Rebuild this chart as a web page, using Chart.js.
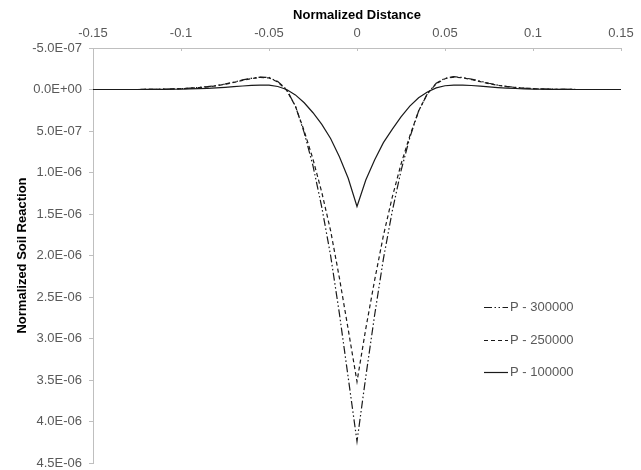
<!DOCTYPE html>
<html>
<head>
<meta charset="utf-8">
<script src="https://cdn.jsdelivr.net/npm/chart.js@4/dist/chart.umd.min.js"></script>
<style>
  html, body { margin: 0; padding: 0; background: #ffffff; }
  #wrap { width: 641px; height: 470px; }
</style>
</head>
<body>
<div id="wrap"><canvas id="c" width="641" height="470"></canvas></div>
<script>
// Normalized distance (x)
const distances = [
  -0.150, -0.145, -0.140, -0.135, -0.130, -0.125, -0.120, -0.115, -0.110, -0.105,
  -0.100, -0.095, -0.090, -0.085, -0.080, -0.075, -0.070, -0.065, -0.060, -0.055,
  -0.050, -0.045, -0.040, -0.035, -0.030, -0.025, -0.020, -0.015, -0.010, -0.005,
   0.000,
   0.005,  0.010,  0.015,  0.020,  0.025,  0.030,  0.035,  0.040,  0.045,  0.050,
   0.055,  0.060,  0.065,  0.070,  0.075,  0.080,  0.085,  0.090,  0.095,  0.100,
   0.105,  0.110,  0.115,  0.120,  0.125,  0.130,  0.135,  0.140,  0.145,  0.150
];

// Normalized soil reaction, in units of 1E-06
const UNIT = 1e-6;
const p300000 = [
  0, 0, 0, 0, 0, 0, -0.001, -0.002, -0.004, -0.007,
  -0.011, -0.017, -0.025, -0.035, -0.048, -0.066, -0.088, -0.115, -0.135, -0.150,
  -0.145, -0.095, 0.00, 0.20, 0.52, 0.92, 1.42, 2.00, 2.70, 3.47,
  4.24,
  3.46, 2.72, 2.04, 1.47, 0.98, 0.58, 0.26, 0.05, -0.075, -0.135,
  -0.155, -0.145, -0.125, -0.100, -0.075, -0.053, -0.037, -0.026, -0.017, -0.011,
  -0.007, -0.004, -0.002, -0.001, 0, 0, 0, 0, 0, 0
];
const p250000 = [
  0, 0, 0, 0, 0, 0, -0.001, -0.002, -0.004, -0.006,
  -0.010, -0.015, -0.022, -0.032, -0.045, -0.062, -0.085, -0.110, -0.130, -0.145,
  -0.140, -0.090, 0.01, 0.20, 0.50, 0.84, 1.24, 1.70, 2.27, 2.89,
  3.52,
  2.88, 2.30, 1.76, 1.30, 0.90, 0.56, 0.26, 0.05, -0.07, -0.13,
  -0.150, -0.140, -0.120, -0.095, -0.070, -0.050, -0.035, -0.024, -0.016, -0.010,
  -0.006, -0.004, -0.002, -0.001, 0, 0, 0, 0, 0, 0
];
const p100000 = [
  0, 0, 0, 0, 0, 0, -0.001, -0.001, -0.002, -0.003,
  -0.005, -0.007, -0.010, -0.014, -0.019, -0.026, -0.034, -0.042, -0.049, -0.053,
  -0.052, -0.036, 0.00, 0.065, 0.16, 0.28, 0.42, 0.59, 0.81, 1.07,
  1.41,
  1.09, 0.85, 0.64, 0.48, 0.33, 0.20, 0.10, 0.03, -0.02, -0.045,
  -0.053, -0.053, -0.048, -0.040, -0.031, -0.023, -0.017, -0.012, -0.008, -0.005,
  -0.003, -0.002, -0.001, -0.001, 0, 0, 0, 0, 0, 0
];

const seriesLabels = ['P - 300000', 'P - 250000', 'P - 100000'];
const xTickStep = 0.05;
const yTickStep = 5e-7;

function toPoints(vals) {
  return distances.map((x, i) => ({ x: x, y: vals[i] * UNIT }));
}

function sciLabel(v) {
  if (Math.abs(v) < 1e-12) v = 0;
  const s = v.toExponential(1);
  const parts = s.split('e');
  const exp = parseInt(parts[1], 10);
  const sign = exp < 0 ? '-' : '+';
  return parts[0] + 'E' + sign + String(Math.abs(exp)).padStart(2, '0');
}

const FONT = "'Liberation Sans', Arial, sans-serif";
const AXIS_GRAY = '#bfbfbf';
const LABEL_GRAY = '#595959';

const innerTicks = {
  id: 'innerTicks',
  afterDraw(chart) {
    const ctx = chart.ctx;
    const xs = chart.scales.x;
    const top = chart.chartArea.top;
    ctx.save();
    ctx.strokeStyle = AXIS_GRAY;
    ctx.lineWidth = 1;
    xs.ticks.forEach(t => {
      const px = Math.round(xs.getPixelForValue(t.value)) + 0.5;
      ctx.beginPath();
      ctx.moveTo(px, top);
      ctx.lineTo(px, top + 3);
      ctx.stroke();
    });
    ctx.restore();
  }
};

const inPlotLegend = {
  id: 'inPlotLegend',
  afterDraw(chart) {
    const ctx = chart.ctx;
    const rows = [307, 340, 372];
    ctx.save();
    ctx.font = '13px ' + FONT;
    ctx.textBaseline = 'middle';
    ctx.fillStyle = LABEL_GRAY;
    chart.data.datasets.forEach((ds, i) => {
      const y = rows[i] + 0.5;
      ctx.strokeStyle = ds.borderColor;
      ctx.lineWidth = ds.borderWidth;
      ctx.setLineDash(ds.borderDash || []);
      ctx.beginPath();
      ctx.moveTo(484, y);
      ctx.lineTo(508, y);
      ctx.stroke();
      ctx.setLineDash([]);
      ctx.fillText(ds.label, 510, y);
    });
    ctx.restore();
  }
};

new Chart(document.getElementById('c'), {
  type: 'line',
  data: {
    datasets: [
      { label: seriesLabels[0], data: toPoints(p300000), borderColor: '#1a1a1a', borderWidth: 1.2,
        borderDash: [8, 2.5, 1.5, 2.5, 1.5, 2.5], pointRadius: 0, tension: 0, fill: false },
      { label: seriesLabels[1], data: toPoints(p250000), borderColor: '#1a1a1a', borderWidth: 1.2,
        borderDash: [4, 3], pointRadius: 0, tension: 0, fill: false },
      { label: seriesLabels[2], data: toPoints(p100000), borderColor: '#1a1a1a', borderWidth: 1.2,
        pointRadius: 0, tension: 0, fill: false }
    ]
  },
  options: {
    responsive: false,
    animation: false,
    layout: { padding: { left: 0, right: 20, top: 0, bottom: 7 } },
    scales: {
      x: {
        type: 'linear',
        position: 'top',
        min: -0.15,
        max: 0.15,
        ticks: {
          stepSize: xTickStep,
          autoSkip: false,
          maxRotation: 0,
          padding: 7,
          color: LABEL_GRAY,
          font: { family: FONT, size: 13 },
          callback: v => String(Math.round(v * 100) / 100)
        },
        grid: { drawOnChartArea: false, drawTicks: false, color: AXIS_GRAY },
        border: { color: AXIS_GRAY, width: 1 },
        title: {
          display: true,
          text: 'Normalized Distance',
          color: '#000000',
          font: { family: FONT, size: 13, weight: 'bold' },
          padding: { top: 8, bottom: 0 }
        },
        afterFit(s) { s.height = 48; s.paddingLeft = 0; s.paddingRight = 0; }
      },
      y: {
        type: 'linear',
        reverse: true,
        min: -5e-7,
        max: 4.5e-6,
        ticks: {
          stepSize: yTickStep,
          autoSkip: false,
          padding: 7,
          color: LABEL_GRAY,
          font: { family: FONT, size: 13 },
          callback: v => sciLabel(v)
        },
        grid: { drawOnChartArea: false, drawTicks: true, tickLength: 4, color: AXIS_GRAY },
        border: { color: AXIS_GRAY, width: 1 },
        title: {
          display: true,
          text: 'Normalized Soil Reaction',
          color: '#000000',
          font: { family: FONT, size: 13, weight: 'bold' },
          padding: { top: 15, bottom: 0 }
        },
        afterFit(s) { s.width = 93; s.paddingTop = 0; s.paddingBottom = 0; }
      }
    },
    plugins: {
      legend: { display: false },
      tooltip: { enabled: false }
    }
  },
  plugins: [innerTicks, inPlotLegend]
});
</script>
</body>
</html>
